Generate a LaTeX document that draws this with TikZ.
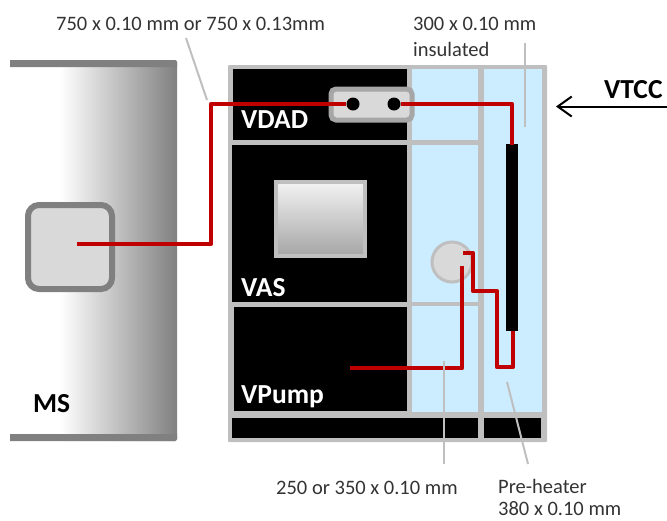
\documentclass[tikz,border=0pt]{standalone}
\usepackage{fontspec}
\setmainfont{Carlito}
\usetikzlibrary{arrows.meta}
\definecolor{framegray}{HTML}{BFBFBF}
\definecolor{darkgray}{HTML}{808080}
\definecolor{lightgray}{HTML}{D9D9D9}
\definecolor{paleblue}{HTML}{CCECFF}
\definecolor{tubered}{HTML}{C00000}
\tikzset{
  tube/.style={draw=tubered,line width=4.5pt,line join=round},
  leader/.style={draw=framegray,line width=2pt},
  label/.style={font=\fontsize{20.5}{24}\selectfont,inner sep=0pt,anchor=base west,text=black!80},
  title/.style={font=\bfseries\fontsize{27.5}{32}\selectfont,inner sep=0pt,anchor=base west},
  pane/.style={fill=black,draw=none},
  port/.style={circle,fill=black,minimum size=13pt,inner sep=0pt}
}
\begin{document}
\begin{tikzpicture}[x=1pt,y=-1pt]
  \useasboundingbox (0,0) rectangle (667,520);

  % mass spectrometer
  \shade[left color=white,right color=darkgray,rounded corners=2pt] (60,60) rectangle (177,441);
  \fill[white] (0,60) rectangle (60,441);
  \fill[darkgray] (10,60) -- (175,60) to[out=0,in=-90] (177,62) -- (177,67) -- (10,67) -- cycle;
  \fill[darkgray] (10,434) -- (177,434) -- (177,439) to[out=90,in=0] (175,441) -- (10,441) -- cycle;
  \draw[darkgray,line width=6pt,fill=lightgray,rounded corners=11pt] (28,205) rectangle (112,289);

  % housing
  \fill[framegray,rounded corners=1pt] (228,65) rectangle (547,442);
  \fill[paleblue] (412,69) rectangle (478,412);
  \fill[paleblue] (484,69) rectangle (542,412);
  \fill[framegray] (407,140) rectangle (478,145);
  \fill[framegray] (407,302) rectangle (478,306);
  \fill[pane] (233,69) rectangle (407,140);
  \fill[pane] (232,145) rectangle (407,302);
  \fill[pane] (234,307) rectangle (407,411);
  \fill[pane] (232,418) rectangle (478,438);
  \fill[pane] (484,418) rectangle (541,438);

  % parts inside
  \shade[top color=black!5,bottom color=black!35,draw=framegray,line width=4pt] (276,182) rectangle (365,256);
  \draw[darkgray!70,line width=5pt,fill=lightgray,rounded corners=5pt] (331,89) rectangle (412,120);
  \draw[framegray,line width=3pt,fill=lightgray] (452,262) circle (20pt);
  \fill[black] (505.5,144) rectangle (518,331);

  \node[port] (pa) at (353,104) {};
  \node[port] (pb) at (394,104) {};
  \coordinate (ms) at (77,244);
  \coordinate (heat) at (512,145);
  \coordinate (heatb) at (513,331);
  \coordinate (joint) at (463,253);
  \coordinate (pump) at (350,368);
  \coordinate (inlet) at (462,266);

  % tubing
  \draw[tube] (ms) -- (211,244) -- (211,104) -- (pa);
  \draw[tube] (pb) -- (512,104) -- (heat);
  \draw[tube] (heatb) -- (513,367) -- (497,367) -- (497,291) -- (473,291) -- (473,253) -- (joint);
  \draw[tube] (pump) -- (462,368) -- (inlet);

  % leaders
  \coordinate (la) at (186,38);
  \coordinate (lb) at (207,100);
  \coordinate (lc) at (525,43);
  \coordinate (ld) at (525,127);
  \coordinate (le) at (444,361);
  \coordinate (lf) at (444,464);
  \coordinate (lg) at (507,382);
  \coordinate (lh) at (528,464);
  \draw[leader] (la) -- (lb);
  \draw[leader] (lc) -- (ld);
  \draw[leader] (le) -- (lf);
  \draw[leader] (lg) -- (lh);

  % arrow
  \coordinate (va) at (667,106.5);
  \coordinate (vb) at (556,106.5);
  \draw[line width=2pt,-{Straight Barb[length=14pt,width=20pt]}] (va) -- (vb);

  % labels
  \node[label] (t1) at (56,30) {750 x 0.10 mm or 750 x 0.13mm};
  \node[label] (t2) at (413,30) {300 x 0.10 mm};
  \node[label] (t3) at (413,56) {insulated};
  \node[label] (t4) at (276,494) {250 or 350 x 0.10 mm};
  \node[label] (t5) at (498,493) {Pre-heater};
  \node[label] (t6) at (498,515) {380 x 0.10 mm};
  \node[title] (vtcc) at (604,98) {VTCC};
  \node[title,text=white] (vdad) at (241,128) {VDAD};
  \node[title,text=white] (vas) at (241,296) {VAS};
  \node[title,text=white] (vpump) at (241,403) {VPump};
  \node[title] (ms-label) at (33,412) {MS};
\end{tikzpicture}
\end{document}
